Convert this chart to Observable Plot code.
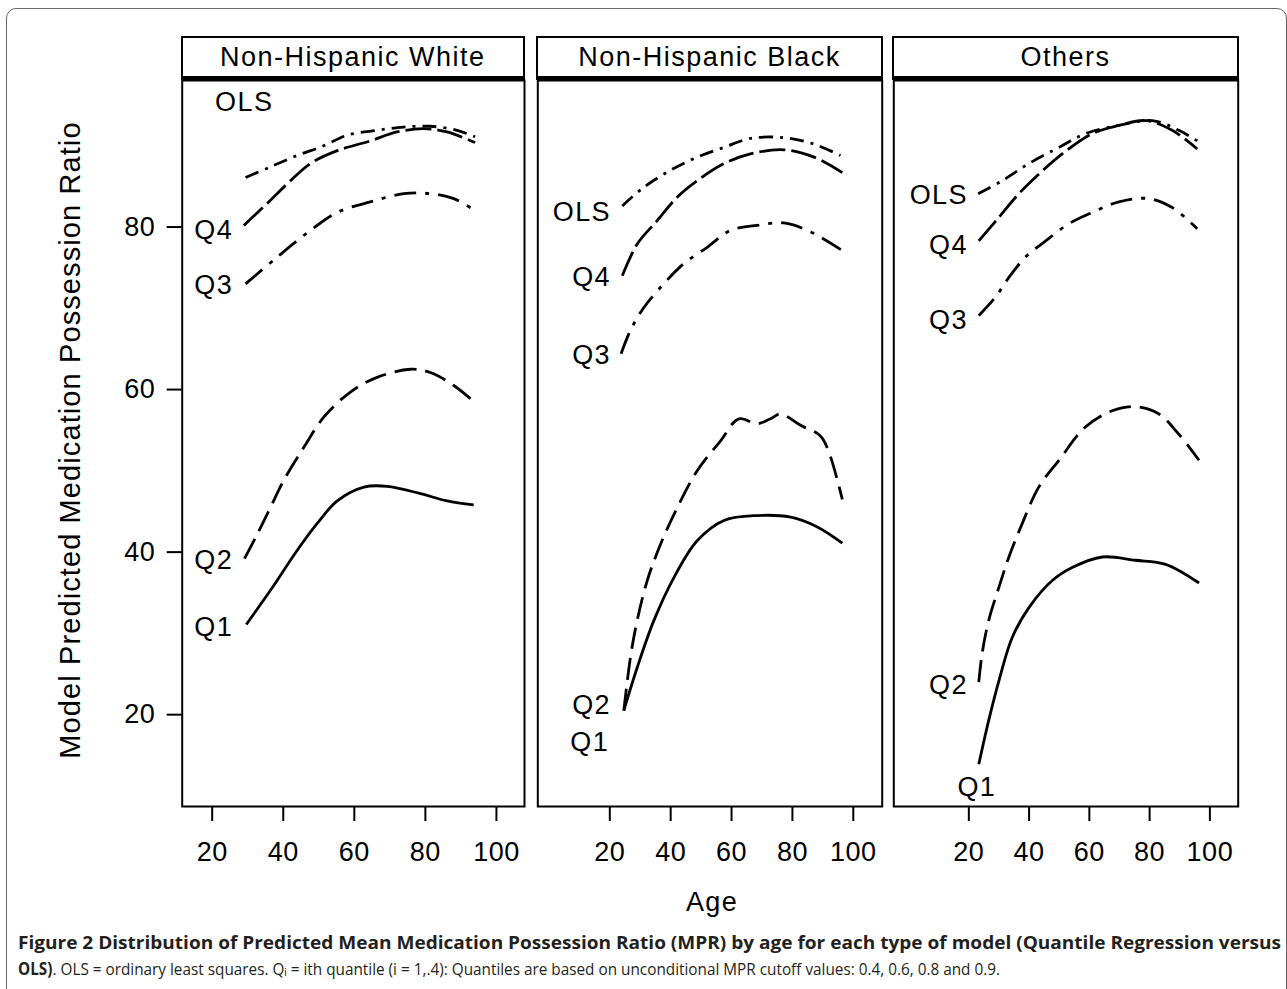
<!DOCTYPE html>
<html><head><meta charset="utf-8">
<script src="https://cdn.jsdelivr.net/npm/d3@7"></script>
<script src="https://cdn.jsdelivr.net/npm/@observablehq/plot@0.6"></script>
<style>
body{margin:0;background:#fff;width:1287px;height:989px;overflow:hidden;position:relative;font-family:"Liberation Sans",Arial,sans-serif;color:#000;}
#outer{position:absolute;left:6px;top:8px;width:1281px;height:1000px;border:1px solid #666;border-radius:10px;box-sizing:border-box;}
.panel{position:absolute;top:0;}
.hdr{position:absolute;top:36px;height:44px;box-sizing:border-box;border:2px solid #000;border-bottom:4px solid #000;display:flex;align-items:center;justify-content:center;font-size:27px;letter-spacing:1.5px;background:#fff;white-space:nowrap;}
.panel g[aria-label="text"] text{letter-spacing:1.4px;}
.panel g[aria-label$="tick label"] text{letter-spacing:0.5px;}
#ylab{position:absolute;left:70px;top:440px;transform:translate(-50%,-50%) rotate(-90deg);font-size:29px;letter-spacing:1.1px;white-space:nowrap;}
#xlab{position:absolute;left:712px;top:902px;transform:translate(-50%,-50%);font-size:27px;letter-spacing:1.4px;white-space:nowrap;}
#cap{position:absolute;left:0;top:925px;}
</style></head>
<body>
<div id="outer"></div>
<div id="root"></div>
<script>
// ---- tick values ----
const ageTicks = [20, 40, 60, 80, 100];
const mprTicks = [20, 40, 60, 80];
const panelNames = ["Non-Hispanic White", "Non-Hispanic Black", "Others"];
const seriesNames = ["OLS", "Q4", "Q3", "Q2", "Q1"];

// ---- Non-Hispanic White: [age, predicted MPR] ----
const white_OLS = [[29.4,86.1],[36.4,87.4],[43.9,88.8],[51.4,90.0],[58,91.3],[66.4,91.9],[73.9,92.3],[81.4,92.4],[88.9,91.9],[94,91.1]];
const white_Q4 = [[28.9,80.2],[36.4,83.3],[41.1,85.3],[47.6,87.8],[55.2,89.4],[64.5,90.6],[72,91.7],[79.5,92.1],[86.1,91.7],[94,90.4]];
const white_Q3 = [[29.4,73.0],[38.3,76.3],[47.7,79.6],[55.2,81.8],[64.5,83.1],[73.9,84.1],[81.4,84.1],[88,83.5],[94,82.0]];
const white_Q2 = [[29.1,39.2],[32.7,42.2],[36.4,45.5],[40.1,48.8],[45.8,52.9],[51.4,56.6],[58.9,59.7],[66.4,61.5],[75.8,62.5],[81.4,62.1],[88,60.5],[94.5,58.2]];
const white_Q1 = [[29.6,31.1],[36.4,35.3],[43.9,40.2],[49.5,43.5],[55.2,46.3],[62.7,48.0],[69.2,48.1],[78.6,47.2],[86.1,46.3],[93.6,45.8]];
const white_labelX = [37.2, 25.9, 25.9, 25.9, 25.9];
const white_labelY = [95.4, 79.6, 72.8, 39.0, 30.7];

// ---- Non-Hispanic Black ----
const black_OLS = [[24.1,82.6],[31.2,84.9],[40,87.0],[48.7,88.6],[57.5,89.8],[66.2,90.9],[77.2,91.0],[87.1,90.2],[95.8,88.8]];
const black_Q4 = [[24.1,74.0],[29,77.9],[35.6,80.8],[42.2,83.7],[48.7,85.7],[57.5,87.8],[66.2,89.0],[77.2,89.5],[87.1,88.6],[96.4,86.7]];
const black_Q3 = [[23.7,64.4],[26.8,67.3],[31.2,70.1],[37.7,73.0],[44.3,75.5],[52,77.5],[59.7,79.6],[68.4,80.2],[77.2,80.5],[86,79.4],[96.4,77.1]];
const black_Q2 = [[24.6,20.5],[26.8,27.1],[29,31.6],[32.3,36.5],[36.7,41.0],[42.2,45.5],[48.7,50.0],[56.4,53.7],[62.4,56.4],[68.4,55.8],[72.8,56.4],[76.1,57.0],[82.7,55.6],[89.2,54.3],[92,52.3],[96.4,46.5]];
const black_Q1 = [[24.6,20.5],[29,25.8],[34.5,31.6],[41.1,36.9],[48.7,41.4],[57.5,43.9],[68.4,44.5],[79.4,44.3],[88.2,43.1],[96.4,41.1]];
const black_labelX = [20.4, 20.4, 20.4, 20.4, 19.8];
const black_labelY = [81.8, 73.8, 64.2, 21.1, 16.6];

// ---- Others ----
const other_OLS = [[23.1,84.1],[31.1,85.7],[39.9,87.8],[49.9,89.8],[58.7,91.5],[69.8,92.5],[80.9,93.1],[89.7,91.9],[95.8,90.6]];
const other_Q4 = [[23.3,78.3],[30,81.2],[36.6,84.1],[43.2,86.5],[51,89.0],[61,91.5],[69.8,92.5],[78.7,93.1],[87.5,91.9],[95.8,89.6]];
const other_Q3 = [[23.3,69.1],[28.9,71.4],[33.3,73.8],[38.8,76.3],[45.5,78.3],[53.2,80.4],[61,81.8],[69.8,83.1],[79.8,83.5],[87.5,82.4],[95.8,79.8]];
const other_Q2 = [[23.3,24.0],[24.4,27.5],[26.6,31.6],[30,35.7],[33.3,39.4],[37.7,43.5],[43.2,48.0],[49.9,51.3],[58.7,55.4],[67.6,57.4],[75.3,57.9],[83.1,57.0],[89.7,54.5],[96.4,51.3]];
const other_Q1 = [[23.3,13.9],[26.6,19.3],[30,24.2],[34.4,29.5],[40,33.2],[47.7,36.5],[54.3,38.1],[64.3,39.4],[75.3,39.0],[85.3,38.5],[96.4,36.2]];
const other_labelX = [19.7, 19.7, 19.7, 19.7, 29.1];
const other_labelY = [83.9, 77.7, 68.5, 23.6, 11.05];

// line styles per series (OLS, Q4, Q3, Q2, Q1)
const dashes = ["14,7,3,7", "26,6", "22,9,4,9", "22,9", null];

const panels = [
  {name: panelNames[0], series: [white_OLS, white_Q4, white_Q3, white_Q2, white_Q1], lx: white_labelX, ly: white_labelY,
   left: 0, width: 530, ml: 181.7, mr: 6, xDomain: [11.56, 107.9], yAxis: true},
  {name: panelNames[1], series: [black_OLS, black_Q4, black_Q3, black_Q2, black_Q1], lx: black_labelX, ly: black_labelY,
   left: 530, width: 357, ml: 7.3, mr: 5.3, xDomain: [-3.66, 109.5], yAxis: false},
  {name: panelNames[2], series: [other_OLS, other_Q4, other_Q3, other_Q2, other_Q1], lx: other_labelX, ly: other_labelY,
   left: 887, width: 357, ml: 6.3, mr: 6.3, xDomain: [-4.9, 109.4], yAxis: false}
];

const root = document.getElementById("root");
const H = 880, MT = 80, MB = H - 806;

panels.forEach(p => {
  const marks = [];
  p.series.forEach((s, i) => {
    const rows = s.map(([age, value]) => ({age, value}));
    const opts = {x: "age", y: "value", stroke: "black", strokeWidth: 2.8, curve: "catmull-rom", strokeLinecap: "butt"};
    if (dashes[i]) opts.strokeDasharray = dashes[i];
    marks.push(Plot.line(rows, opts));
  });
  const labels = seriesNames.map((t, i) => ({t, x: p.lx[i], y: p.ly[i]}));
  marks.push(Plot.text(labels, {x: "x", y: "y", text: "t", textAnchor: "end", fontSize: 27, fill: "black"}));
  marks.push(Plot.frame({stroke: "black", strokeWidth: 2}));
  marks.push(Plot.axisX({ticks: ageTicks, tickSize: 15, tickPadding: 20, strokeWidth: 2, fontSize: 27, label: null, tickFormat: d => String(d)}));
  if (p.yAxis) marks.push(Plot.axisY({ticks: mprTicks, tickSize: 15, tickPadding: 12, strokeWidth: 2, fontSize: 27, label: null, tickFormat: d => String(d)}));
  const svg = Plot.plot({
    width: p.width, height: H,
    marginTop: MT, marginBottom: MB, marginLeft: p.ml, marginRight: p.mr,
    x: {domain: p.xDomain, axis: null},
    y: {domain: [8.7, 98.03], axis: null},
    style: {fontFamily: "'Liberation Sans', Arial, sans-serif", color: "black", background: "transparent", overflow: "visible"},
    marks
  });
  const wrap = document.createElement("div");
  wrap.className = "panel";
  wrap.style.left = p.left + "px";
  wrap.appendChild(svg);
  root.appendChild(wrap);
  const hdr = document.createElement("div");
  hdr.className = "hdr";
  hdr.style.left = (p.left + p.ml - 1) + "px";
  hdr.style.width = (p.width - p.ml - p.mr + 2) + "px";
  hdr.textContent = p.name;
  root.appendChild(hdr);
});
</script>
<div id="ylab">Model Predicted Medication Possession Ratio</div>
<div id="xlab">Age</div>
<svg id="cap" width="1287" height="64" font-family="'Open Sans', sans-serif" fill="#231f20">
  <text x="18" y="24" font-size="18" font-weight="700" textLength="1263" lengthAdjust="spacingAndGlyphs">Figure 2 Distribution of Predicted Mean Medication Possession Ratio (MPR) by age for each type of model (Quantile Regression versus</text>
  <text x="18" y="50" font-size="17" textLength="982" lengthAdjust="spacingAndGlyphs"><tspan font-weight="700">OLS)</tspan>. OLS = ordinary least squares. Qᵢ = ith quantile (i = 1,.4): Quantiles are based on unconditional MPR cutoff values: 0.4, 0.6, 0.8 and 0.9.</text>
</svg>
</body></html>
